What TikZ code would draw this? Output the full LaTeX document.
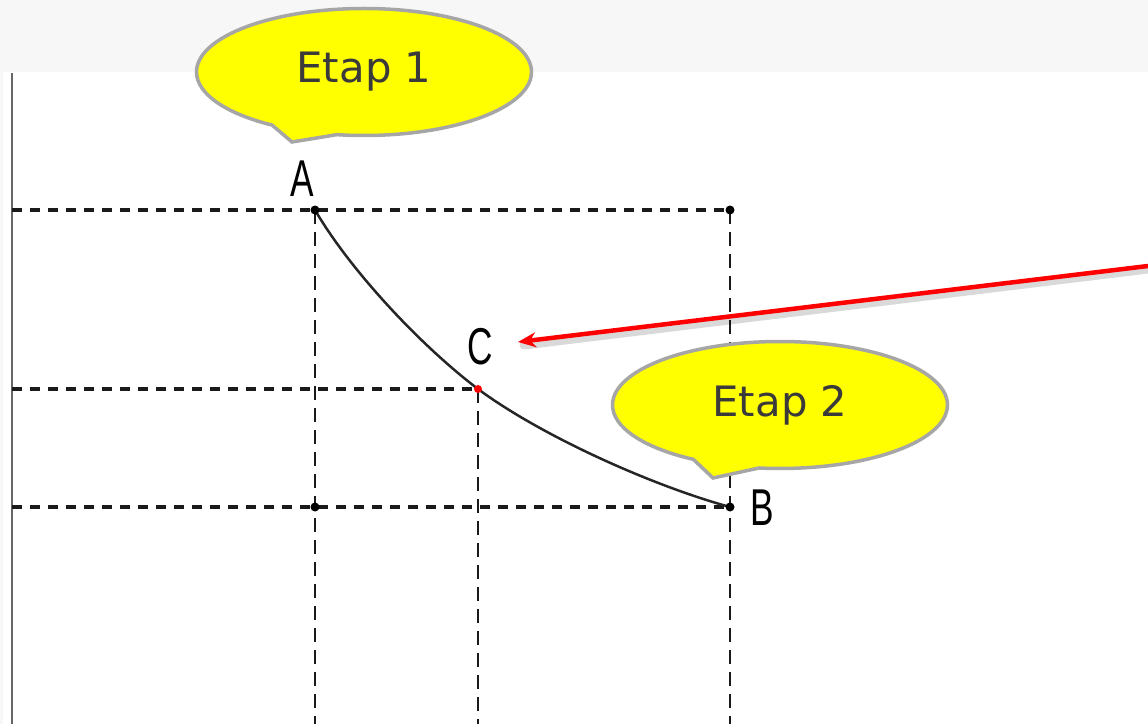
\documentclass[tikz,border=0pt]{standalone}
\usepackage{fontspec}
\setmainfont{DejaVu Sans}
\newfontfamily\labfont{Liberation Sans}
\usetikzlibrary{shapes.callouts,shapes.geometric,arrows.meta}
\definecolor{band}{HTML}{F7F7F7}
\definecolor{callborder}{HTML}{A6A6A6}
\definecolor{calltext}{HTML}{3A3A3A}
\definecolor{gridline}{HTML}{1A1A1A}
\definecolor{pureyellow}{RGB}{255,255,0}
\tikzset{
  hdash/.style={draw=gridline, line width=4bp, dash pattern=on 10bp off 8bp},
  vdash/.style={draw=gridline, line width=2.2bp, dash pattern=on 14bp off 8bp},
  ptdot/.style={circle, fill=black, inner sep=0pt, minimum size=9bp},
  ptlab/.style={font=\labfont\fontsize{52}{52}\selectfont, text=black, inner sep=0pt},
  bubble/.style={ellipse callout, draw=callborder, line width=3.5bp, fill=pureyellow,
     minimum width=335bp, minimum height=127bp, callout pointer arc=24,
     text=calltext, font=\fontsize{42}{42}\selectfont, inner sep=0pt},
}
\begin{document}
\begin{tikzpicture}[x=1bp,y=-1bp]
\useasboundingbox (0,0) rectangle (1148,724);
\fill[band] (0,0) rectangle (1148,72);
\fill[band] (0,72) rectangle (3,724);
\draw[draw=black!60, line width=2.2bp] (12,73) -- (12,724);
% points
\coordinate (A) at (315,210);
\coordinate (B) at (730,507);
\coordinate (C) at (478,389);
\coordinate (TR) at (730,210);
\coordinate (BL) at (315,507);
\coordinate (L1) at (12,210);
\coordinate (L2) at (12,389);
\coordinate (L3) at (12,507);
\coordinate (DA) at (315,724);
\coordinate (DC) at (478,724);
\coordinate (DB) at (730,724);
% grid
\draw[hdash] (L1) -- (TR);
\draw[hdash] (L2) -- (C);
\draw[hdash] (L3) -- (B);
\draw[vdash] (A) -- (DA);
\draw[vdash] (C) -- (DC);
\draw[vdash] (TR) -- (DB);
% curve
\draw[line width=2.5bp, black!85] (A) .. controls (350,270) and (420,345) .. (C)
   .. controls (540,435) and (650,485) .. (B);
% dots
\node[ptdot] (dA) at (A) {};
\node[ptdot] (dTR) at (TR) {};
\node[ptdot] (dBL) at (BL) {};
\node[ptdot] (dB) at (B) {};
\node[ptdot, fill=red, minimum size=8bp] (dC) at (C) {};
% labels
\node[ptlab] (labA) at (302,179) {\scalebox{0.68}[1]{A}};
\node[ptlab] (labC) at (480,347) {\scalebox{0.68}[1]{C}};
\node[ptlab] (labB) at (762,508) {\scalebox{0.68}[1]{B}};
% red arrow
\coordinate (rs) at (1148,266);
\coordinate (rt) at (518,342);
\draw[line width=9bp, black, opacity=0.15, line cap=round] ([yshift=-3bp]rs) -- ([xshift=6bp,yshift=-3bp]rt);
\draw[red, line width=4.5bp, -{Stealth[length=18bp,width=15bp]}] (rs) -- (rt);
% callouts
\node[bubble, callout absolute pointer={(292,142)}] (e1) at (364,72) {Etap 1};
\node[bubble, callout absolute pointer={(713,478)}] (e2) at (780,405) {Etap 2};
\end{tikzpicture}
\end{document}
